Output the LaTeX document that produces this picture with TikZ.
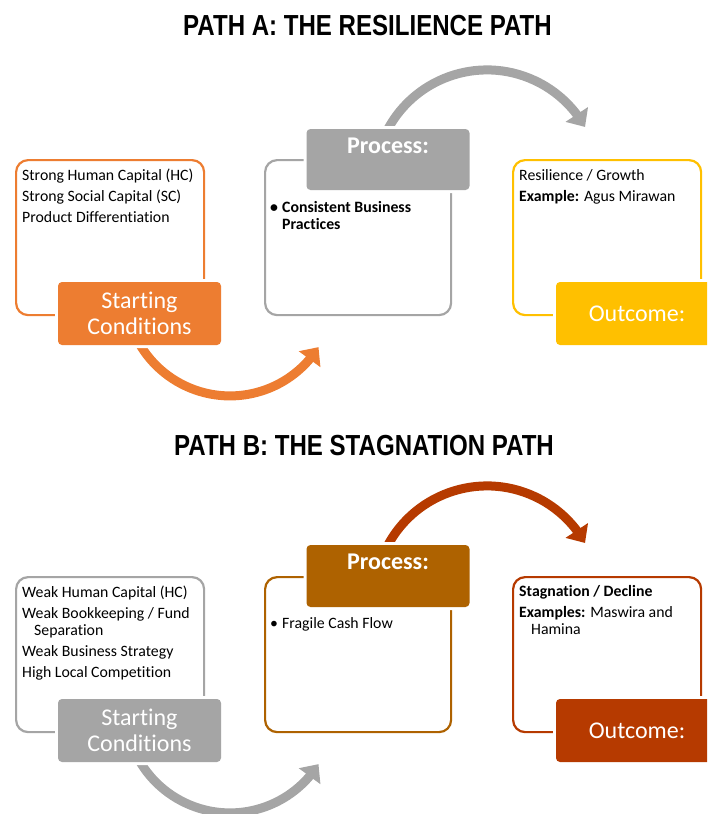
\documentclass[tikz,border=0pt]{standalone}
\usepackage{fontspec}
\setmainfont[Ligatures={NoCommon}]{Carlito}
\newfontfamily\titlefont[FakeStretch=0.83]{Liberation Sans}
\usetikzlibrary{arrows.meta,bending}
\definecolor{cOrange}{HTML}{ED7D31}
\definecolor{cGray}{HTML}{A5A5A5}
\definecolor{cYellow}{HTML}{FFC000}
\definecolor{cBrown}{HTML}{AE6200}
\definecolor{cRust}{HTML}{B63A00}
\tikzset{
  outbox/.style={draw, line width=2.2pt, rounded corners=12pt, fill=white, minimum width=188pt, minimum height=155pt, anchor=north west, inner sep=0pt},
  labelbox/.style={rounded corners=4pt, minimum width=163pt, minimum height=63pt, inner sep=0pt, text=white, align=center, font=\fontsize{24}{26}\selectfont, preaction={draw=white, line width=6pt}},
  labeltext/.style={anchor=base, inner sep=0pt, text=white, font=\fontsize{24}{26}\selectfont\bfseries},
  bodytext/.style={anchor=base west, inner sep=0pt, font=\fontsize{15.8}{17.2}\selectfont},
  titletext/.style={anchor=base, inner sep=0pt, font=\titlefont\bfseries\fontsize{29}{31}\selectfont},
  bigarrow/.style={line width=9pt, -{Triangle[width=26pt,length=15pt]}}
}
\newcommand{\boxtext}[1]{\parbox[t]{184pt}{\setlength{\parskip}{3.8pt}\raggedright #1}}
\begin{document}
\begin{tikzpicture}[x=1pt,y=-1pt]
\useasboundingbox (0,0) rectangle (707,814);
\clip (0,0) rectangle (707,814);

% ---------- titles
\node[titletext] (tA) at (367.5,35.5) {PATH A: THE RESILIENCE PATH};
\node[titletext] (tB) at (364,455.5) {PATH B: THE STAGNATION PATH};

% ---------- Path A boxes
\node[outbox, draw=cOrange] (sA) at (15,159) {};
\node[outbox, draw=cGray, minimum width=186pt] (pA) at (264,159) {};
\node[outbox, draw=cYellow] (oA) at (512,159) {};

% ---------- Path B boxes
\node[outbox, draw=cGray] (sB) at (15,576) {};
\node[outbox, draw=cBrown, minimum width=186pt] (pB) at (264,576) {};
\node[outbox, draw=cRust] (oB) at (512,576) {};

% ---------- arrows (drawn below the labels)
\coordinate (aA1s) at (384.9,135);
\draw[bigarrow, cGray] (aA1s) arc[start angle=155, end angle=29.6, radius=112.7pt];
\coordinate (aA2s) at (131.6,327);
\draw[bigarrow, cOrange] (aA2s) arc[start angle=200, end angle=327.7, radius=104.7pt];
\coordinate (aB1s) at (384.9,551);
\draw[bigarrow, cRust] (aB1s) arc[start angle=155, end angle=29.6, radius=112.7pt];
\coordinate (aB2s) at (131.6,744);
\draw[bigarrow, cGray] (aB2s) arc[start angle=200, end angle=327.7, radius=104.7pt];

% ---------- labels Path A
\node[labelbox, fill=cOrange] (lsA) at (139.5,313.5) {Starting\\Conditions};
\node[labelbox, fill=cGray, minimum height=61pt] (lpA) at (388,159.5) {};
\node[labeltext] (lpAt) at (388,153) {Process:};
\node[labelbox, fill=cYellow, minimum width=162pt] (loA) at (637,313.5) {Outcome:};

% ---------- labels Path B
\node[labelbox, fill=cGray] (lsB) at (139.5,730.5) {Starting\\Conditions};
\node[labelbox, fill=cBrown, minimum height=62pt] (lpB) at (388,576) {};
\node[labeltext] (lpBt) at (388,569) {Process:};
\node[labelbox, fill=cRust, minimum width=162pt] (loB) at (637,730.5) {Outcome:};

% ---------- body texts Path A
\node[bodytext] (xsA) at (22,180) {\boxtext{Strong Human Capital (HC)\par Strong Social Capital (SC)\par Product Differentiation}};
\node[bodytext] (xpA) at (270,212) {\boxtext{\bfseries\makebox[12pt][l]{\textbullet}Consistent Business\\\hspace*{12pt}Practices}};
\node[bodytext] (xoA) at (519,180) {\boxtext{Resilience / Growth\par \textbf{Example:} Agus Mirawan}};

% ---------- body texts Path B
\node[bodytext] (xsB) at (22,597) {\boxtext{Weak Human Capital (HC)\par Weak Bookkeeping / Fund\\\hspace*{12pt}Separation\par Weak Business Strategy\par High Local Competition}};
\node[bodytext] (xpB) at (270,628) {\boxtext{\makebox[12pt][l]{\textbullet}Fragile Cash Flow}};
\node[bodytext] (xoB) at (519,596) {\boxtext{\textbf{Stagnation / Decline}\par \textbf{Examples:} Maswira and\\\hspace*{12pt}Hamina}};
\end{tikzpicture}
\end{document}
